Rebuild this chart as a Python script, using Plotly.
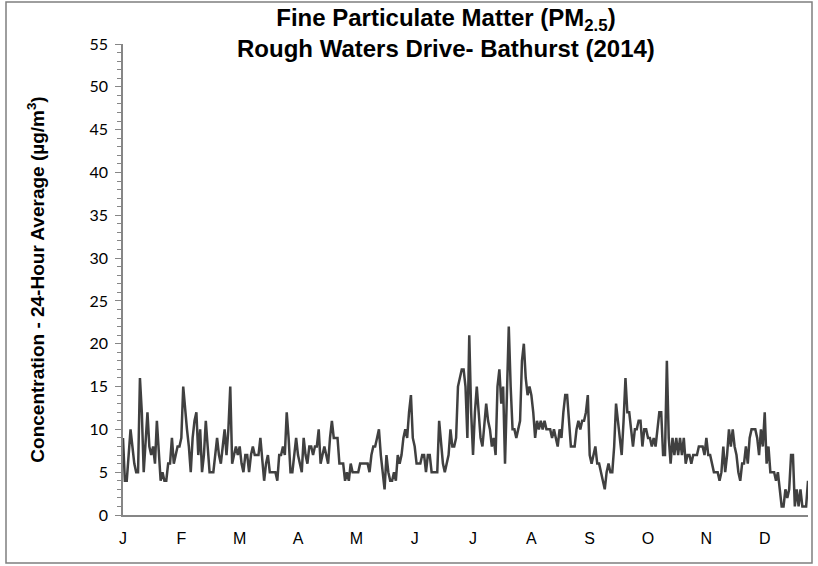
import numpy as np
import plotly.graph_objects as go

# Daily 24-hour average PM2.5 (ug/m3), 2014, by month
jan = [9,4,4,7,10,8,6,5,5,16,12,5,8,12,8,7,8,6,11,7,4,5,4,4,6,6,9,6,7,8,8]
feb = [9,15,12,10,8,5,9,11,12,7,10,5,7,11,8,5,5,5,7,9,7,6,8,10,7,10,15,6]
mar = [7,8,7,8,6,5,7,7,5,7,8,7,7,7,9,6,4,6,7,5,5,5,5,4,7,7,8,7,12,9,5]
apr = [5,7,9,7,6,5,9,7,6,8,8,7,8,8,10,6,7,8,7,6,9,11,9,9,9,6,6,6,4,5]
may = [4,6,5,5,5,5,6,6,6,6,6,5,7,8,8,9,10,7,5,3,7,5,4,4,5,4,7,6,7,9,10]
jun = [9,12,14,9,8,6,6,6,7,7,5,7,7,5,5,5,5,11,8,6,5,6,7,10,8,8,9,15,16,17]
jul = [17,15,9,21,12,7,12,15,12,9,8,11,13,11,10,8,9,7,15,17,13,15,6,14,22,15,10,10,9,10,11]
aug = [18,20,16,14,15,14,12,9,11,10,11,10,11,10,10,10,9,10,9,8,10,9,12,14,14,11,8,8,8,10,11]
sep = [10,11,11,12,14,7,6,7,8,6,6,5,4,3,5,6,5,5,8,13,11,9,7,11,16,12,12,10,8,10]
oct_ = [10,11,11,8,10,10,9,9,8,9,8,10,12,12,7,7,18,9,6,9,7,9,7,9,7,9,6,7,7,6,7]
nov = [7,7,8,8,8,7,9,7,7,6,5,5,5,4,5,8,5,7,10,8,10,8,7,5,4,6,6,8,6,9]
dec = [10,10,10,9,7,10,8,12,6,8,5,5,5,4,5,3,1,1,3,2,3,7,7,1,3,1,3,1,1,1,4]

month_labels = ["J", "F", "M", "A", "M", "J", "J", "A", "S", "O", "N", "D"]
label_interval = 31  # category label every 31 days

values = jan + feb + mar + apr + may + jun + jul + aug + sep + oct_ + nov + dec
days = np.arange(len(values))
tick_positions = [i * label_interval for i in range(len(month_labels))]

fig = go.Figure()
fig.add_trace(go.Scatter(
    x=days, y=values, mode="lines",
    line=dict(color="#404040", width=2.5),
    hoverinfo="x+y", showlegend=False,
))

axis_color = "#868686"
fig.update_layout(
    width=818, height=566,
    margin=dict(l=123, r=10, t=44, b=51),
    paper_bgcolor="white", plot_bgcolor="white",
    font=dict(family="Liberation Sans, Arial, sans-serif", color="#000000"),
    annotations=[dict(
        text="<b>Fine Particulate Matter (PM<sub>2.5</sub>)<br>Rough Waters Drive- Bathurst (2014)</b>",
        xref="paper", yref="paper",
        x=(446 - 123) / 685, y=(515 - 33) / 471,
        xanchor="center", yanchor="middle", showarrow=False,
        font=dict(size=24, family="Liberation Sans, Arial, sans-serif", color="#000000"),
    )],
    xaxis=dict(
        range=[0, len(values) - 1],
        tickmode="array", tickvals=tick_positions, ticktext=month_labels,
        showgrid=False, zeroline=False,
        showline=True, linecolor=axis_color, linewidth=1.5,
        ticks="", tickfont=dict(size=16), ticklabelstandoff=8,
    ),
    yaxis=dict(
        range=[0, 55], dtick=5, tick0=0,
        showgrid=False, zeroline=False,
        showline=True, linecolor=axis_color, linewidth=1.5,
        ticks="outside", ticklen=6, tickcolor=axis_color, tickwidth=1,
        minor=dict(dtick=1, ticks="outside", ticklen=4, tickcolor=axis_color, tickwidth=1),
        tickfont=dict(size=16, family="Lato, Liberation Sans, sans-serif"),
        ticklabelstandoff=4,
        title=dict(
            text="<b>Concentration - 24-Hour Average (µg/m<sup>3</sup>)</b>",
            font=dict(size=19), standoff=40,
        ),
    ),
    shapes=[dict(
        type="rect", xref="paper", yref="paper",
        x0=(6 - 123) / 685, x1=(812 - 123) / 685,
        y0=(515 - 563) / 471, y1=(515 - 2) / 471,
        line=dict(color="#7f7f7f", width=1.5), fillcolor="rgba(0,0,0,0)",
        layer="below",
    )],
)

fig.write_html("out.html", config={"displayModeBar": False},
               post_script="document.body.style.margin='0';")
